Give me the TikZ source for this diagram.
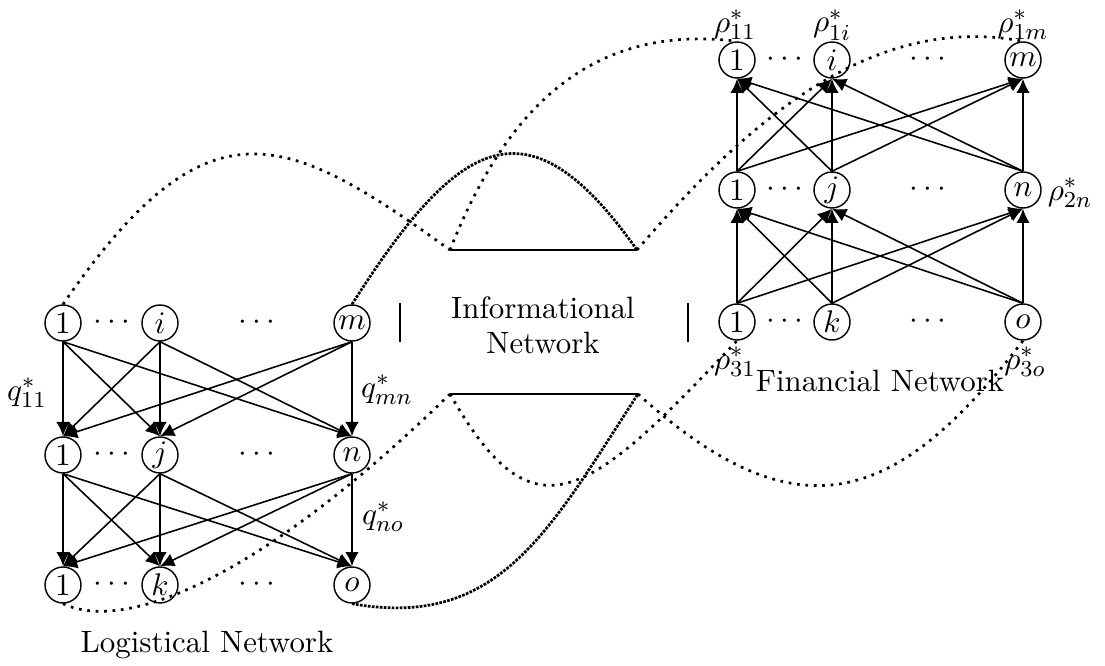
\documentclass[tikz,border=0pt]{standalone}
\usetikzlibrary{arrows.meta}
\begin{document}
\begin{tikzpicture}[x=0.35pt,y=-0.35pt,
  font=\fontsize{10.8}{12.3}\selectfont,
  nd/.style={circle,draw,line width=0.5pt,minimum size=12.6pt,inner sep=0pt},
  flowv/.style={-{Latex[length=5pt,width=4.8pt]},line width=0.9pt},
  flowd/.style={-{Latex[length=5pt,width=4.8pt]},line width=0.55pt},
  link/.style={line width=0.95pt,dotted},
  denselink/.style={line width=0.95pt,dash pattern=on 0.95pt off 0.45pt},
  bar/.style={line width=1pt},
  lbl/.style={inner sep=0pt}]
\useasboundingbox (0,0) rectangle (1105,666);

% ---------- Logistical network ----------
\node[nd] (LA1) at (63,323) {$1$};
\node[nd] (LAi) at (160,323) {$i$};
\node[nd] (LAm) at (352,323) {$m$};
\node[nd] (LB1) at (63,455) {$1$};
\node[nd] (LBj) at (160,455) {$j$};
\node[nd] (LBn) at (352,455) {$n$};
\node[nd] (LC1) at (63,585) {$1$};
\node[nd] (LCk) at (160,585) {$k$};
\node[nd] (LCo) at (352,585) {$o$};
\foreach \r/\y in {a/323,b/455,c/585}{
  \node (ldl\r) at (112,\y) {$\cdots$};
  \node (ldr\r) at (257,\y) {$\cdots$};
}
\foreach \s/\t in {LA1/LB1,LAi/LBj,LAm/LBn,LB1/LC1,LBj/LCk,LBn/LCo}
  \draw[flowv] (\s.south) -- (\t.north);
\foreach \s/\t in {LA1/LBj,LA1/LBn,LAi/LB1,LAi/LBn,LAm/LB1,LAm/LBj,
                   LB1/LCk,LB1/LCo,LBj/LC1,LBj/LCo,LBn/LC1,LBn/LCk}
  \draw[flowd] (\s.south) -- (\t.north);
\node[lbl] (q11) at (27,393) {$q^*_{11}$};
\node[lbl] (qmn) at (387,390) {$q^*_{mn}$};
\node[lbl] (qno) at (383,517) {$q^*_{no}$};
\node (logname) at (207,645) {Logistical Network};

% ---------- Financial network ----------
\node[nd] (FA1) at (737,60) {$1$};
\node[nd] (FAi) at (832,60) {$i$};
\node[nd] (FAm) at (1023,60) {$m$};
\node[nd] (FB1) at (737,190) {$1$};
\node[nd] (FBj) at (832,190) {$j$};
\node[nd] (FBn) at (1023,190) {$n$};
\node[nd] (FC1) at (737,322) {$1$};
\node[nd] (FCk) at (832,322) {$k$};
\node[nd] (FCo) at (1023,322) {$o$};
\foreach \r/\y in {a/60,b/190,c/322}{
  \node (fdl\r) at (785,\y) {$\cdots$};
  \node (fdr\r) at (928,\y) {$\cdots$};
}
\foreach \s/\t in {FC1/FB1,FCk/FBj,FCo/FBn,FB1/FA1,FBj/FAi,FBn/FAm}
  \draw[flowv] (\s.north) -- (\t.south);
\foreach \s/\t in {FC1/FBj,FC1/FBn,FCk/FB1,FCk/FBn,FCo/FB1,FCo/FBj,
                   FB1/FAi,FB1/FAm,FBj/FA1,FBj/FAm,FBn/FA1,FBn/FAi}
  \draw[flowd] (\s.north) -- (\t.south);
\node[lbl] (r11) at (735,25) {$\rho^*_{11}$};
\node[lbl] (r1i) at (832,25) {$\rho^*_{1i}$};
\node[lbl] (r1m) at (1023,25) {$\rho^*_{1m}$};
\node[lbl] (r2n) at (1070,193) {$\rho^*_{2n}$};
\node[lbl] (r31) at (735,362) {$\rho^*_{31}$};
\node[lbl] (r3o) at (1025,362) {$\rho^*_{3o}$};
\node (finname) at (880,381) {Financial Network};

% ---------- Informational network ----------
\node[align=center] (infoname) at (543,325) {Informational\\Network};
\coordinate (barLt) at (400,303);
\coordinate (barLb) at (400,342);
\coordinate (barRt) at (688,303);
\coordinate (barRb) at (688,342);
\draw[bar] (barLt) -- (barLb);
\draw[bar] (barRt) -- (barRb);
\coordinate (ul) at (450,250);
\coordinate (ur) at (637,250);
\coordinate (ll) at (450,394);
\coordinate (lr) at (638,394);
\draw[bar] (ul) -- (ur);
\draw[bar] (ll) -- (lr);

% ---------- links between the networks ----------
\draw[link] (LA1.north) .. controls (207,95) and (285,131) .. (ul);
\draw[link] (ul) .. controls (501,121) and (582,22) .. (FA1.north);
\draw[denselink] (LAm.north) .. controls (460,134) and (529,97) .. (ur);
\draw[link] (ur) .. controls (744,125) and (870,12) .. (FAm.north);
\draw[link] (LC1.south) .. controls (130,635) and (270,570) .. (ll);
\draw[denselink] (LCo.south) .. controls (500,630) and (550,529) .. (lr);
\draw[link] (ll) .. controls (534,542) and (587,500) .. (FC1.south);
\draw[link] (lr) .. controls (798,539) and (897,505) .. (FCo.south);
\end{tikzpicture}
\end{document}
